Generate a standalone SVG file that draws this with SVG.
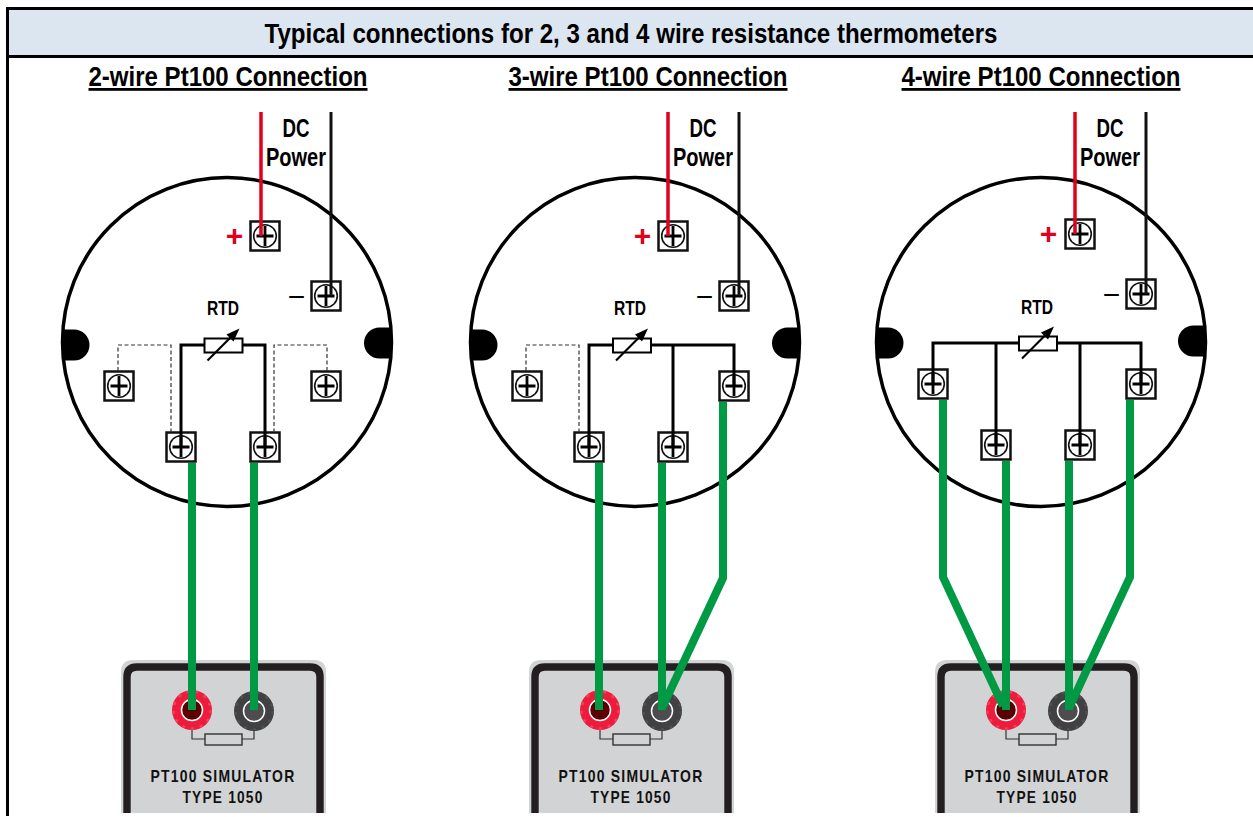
<svg xmlns="http://www.w3.org/2000/svg" width="1253" height="817" viewBox="0 0 1253 817">
<style>
text{font-family:"Liberation Sans",Arial,sans-serif;font-weight:700;fill:#000;text-anchor:middle}
.h{font-size:28px}
.l{font-size:25px}
.r{font-size:20px}
.s{font-size:17px;letter-spacing:1.5px;fill:#111}
.pm{font-size:30px;font-weight:400}
.body{fill:#fff;stroke:#000;stroke-width:3.5}
.g{fill:none;stroke:#009a44;stroke-width:8}
.w{fill:none;stroke:#000;stroke-width:3}
.p{fill:none;stroke:#e2001a;stroke-width:3.5}
.d{fill:none;stroke:#333;stroke-width:1.2;stroke-dasharray:4 2.5}
.k{fill:none;stroke:#111;stroke-width:3}
</style>
<defs>
<g id="term"><rect x="-14.5" y="-14.5" width="29" height="29" fill="#fff" stroke="#111" stroke-width="2.5"/><circle r="11.300" fill="#fff" stroke="#111" stroke-width="1.600"/><path d="M-8.500 0H8.500M0-10V10" stroke="#000" stroke-width="2.800"/></g>
<g id="rtd"><rect x="-19" y="-7" width="38" height="14" fill="#fff" stroke="#000" stroke-width="2"/><path d="M-16 15L11-12" stroke="#000" stroke-width="2.200"/><path d="M16-17L3-11L10-4Z" fill="#000"/></g>
<g id="sim">
<path d="M0 153V12Q0 0 12 0H193Q205 0 205 12V153Z" fill="#d1d3d4"/>
<path d="M6 153V17Q6 7 16 7H189Q199 7 199 17V153" fill="none" stroke="#231f20" stroke-width="7.400"/>
<circle cx="71" cy="50" r="20" fill="#ed1c3c"/><circle cx="71" cy="50" r="18.500" fill="none" stroke="#f0405c" stroke-width="2.500" stroke-dasharray="3 6"/><circle cx="71" cy="50" r="10.500" fill="#5a0000" stroke="#fff" stroke-width="1.500"/>
<circle cx="133" cy="51" r="20" fill="#414042"/><circle cx="133" cy="51" r="18.500" fill="none" stroke="#515153" stroke-width="2.500" stroke-dasharray="3 6"/><circle cx="133" cy="51" r="10.500" fill="#4d4d4f" stroke="#fff" stroke-width="1.500"/>
<path d="M71 70V79H84M121 79H133V70" fill="none" stroke="#333" stroke-width="1.200"/>
<rect x="84" y="74" width="37" height="11" fill="#d1d3d4" stroke="#333" stroke-width="1.400"/>
<text class="s" x="102" y="122" textLength="145" lengthAdjust="spacingAndGlyphs">PT100 SIMULATOR</text>
<text class="s" x="102" y="143" textLength="81" lengthAdjust="spacingAndGlyphs">TYPE 1050</text>
</g>
</defs>
<rect width="1253" height="817" fill="#fff"/>
<g id="frame">
<rect x="8" y="8" width="1245" height="48" fill="#dce6f1"/>
<path d="M7.500 816V8.500H1253M8 56.500H1253" fill="none" stroke="#000" stroke-width="3"/>
<text class="h" x="631" y="43" textLength="733" lengthAdjust="spacingAndGlyphs">Typical connections for 2, 3 and 4 wire resistance thermometers</text>
</g>
<g id="headings">
<text class="h" x="228" y="86" textLength="279" lengthAdjust="spacingAndGlyphs" text-decoration="underline">2-wire Pt100 Connection</text>
<text class="h" x="648" y="86" textLength="279" lengthAdjust="spacingAndGlyphs" text-decoration="underline">3-wire Pt100 Connection</text>
<text class="h" x="1041" y="86" textLength="279" lengthAdjust="spacingAndGlyphs" text-decoration="underline">4-wire Pt100 Connection</text>
</g>
<g id="head-2wire"><circle class="body" cx="227" cy="342" r="164.500"/><path d="M63 329.500H74A15.500 15.500 0 0 1 74 360.500H63Z"/><path d="M391 327.500H379.500A15.500 15.500 0 0 0 379.500 358.500H391Z"/></g>
<g id="head-3wire"><circle class="body" cx="635" cy="342" r="164.500"/><path d="M471 329.500H482A15.500 15.500 0 0 1 482 360.500H471Z"/><path d="M799 327.500H787.500A15.500 15.500 0 0 0 787.500 358.500H799Z"/></g>
<g id="head-4wire"><circle class="body" cx="1041" cy="342" r="164.500"/><path d="M877 327.500H888A15.500 15.500 0 0 1 888 358.500H877Z"/><path d="M1205 325.500H1193.500A15.500 15.500 0 0 0 1193.500 356.500H1205Z"/></g>
<g id="sim-2wire"><use href="#sim" x="121" y="660"/></g>
<g id="sim-3wire"><use href="#sim" x="529" y="660"/></g>
<g id="sim-4wire"><use href="#sim" x="935" y="660"/></g>
<g id="terminals-2wire"><use href="#term" x="265" y="236"/><use href="#term" x="326" y="296"/><use href="#term" x="119" y="386"/><use href="#term" x="326" y="386"/><use href="#term" x="181" y="447"/><use href="#term" x="265" y="447"/></g>
<g id="terminals-3wire"><use href="#term" x="673" y="236"/><use href="#term" x="734" y="296"/><use href="#term" x="527" y="386"/><use href="#term" x="734" y="386"/><use href="#term" x="589" y="447"/><use href="#term" x="673" y="447"/></g>
<g id="terminals-4wire"><use href="#term" x="1080" y="234"/><use href="#term" x="1141" y="294"/><use href="#term" x="933" y="384"/><use href="#term" x="1141" y="384"/><use href="#term" x="996" y="445"/><use href="#term" x="1080" y="445"/></g>
<g id="connectors">
<path class="d" d="M118 371V345H171V432M327 371V345H274V432M526 371V345H579V432"/>
<path class="w" d="M181 447V345H265V447M589 447V345H734V386M673 345V447M933 384V343H1141V384M996 343V445M1080 343V445"/>
<path class="p" d="M261 112V236M668 112V236M1075 112V234"/>
<path class="k" d="M331 112V296M739 112V296M1146 112V294"/>
<path class="g" d="M192 463V710M254 463V710M599 463V710M662 463V710M723 402V578L663 706M943 400V577L1003 706M1006 461V710M1069 461V710M1130 400V577L1070 706"/>
</g>
<g id="rtd-symbols"><use href="#rtd" x="223.500" y="345.500"/><use href="#rtd" x="632" y="345.500"/><use href="#rtd" x="1038" y="343.500"/></g>
<g id="labels">
<text class="l" x="296" y="137" textLength="27" lengthAdjust="spacingAndGlyphs">DC</text><text class="l" x="296" y="166" textLength="60" lengthAdjust="spacingAndGlyphs">Power</text>
<text class="l" x="703" y="137" textLength="27" lengthAdjust="spacingAndGlyphs">DC</text><text class="l" x="703" y="166" textLength="60" lengthAdjust="spacingAndGlyphs">Power</text>
<text class="l" x="1110" y="137" textLength="27" lengthAdjust="spacingAndGlyphs">DC</text><text class="l" x="1110" y="166" textLength="60" lengthAdjust="spacingAndGlyphs">Power</text>
<text class="r" x="223" y="315" textLength="32" lengthAdjust="spacingAndGlyphs">RTD</text><text class="r" x="630" y="315" textLength="32" lengthAdjust="spacingAndGlyphs">RTD</text><text class="r" x="1037" y="314" textLength="32" lengthAdjust="spacingAndGlyphs">RTD</text>
<text class="pm" x="234.500" y="246" style="fill:#e2001a;font-weight:700">+</text><text class="pm" x="642.500" y="246" style="fill:#e2001a;font-weight:700">+</text><text class="pm" x="1048.500" y="244" style="fill:#e2001a;font-weight:700">+</text>
<text class="pm" x="296.500" y="307">−</text><text class="pm" x="704.500" y="307">−</text><text class="pm" x="1111.500" y="305">−</text>
</g>
</svg>
